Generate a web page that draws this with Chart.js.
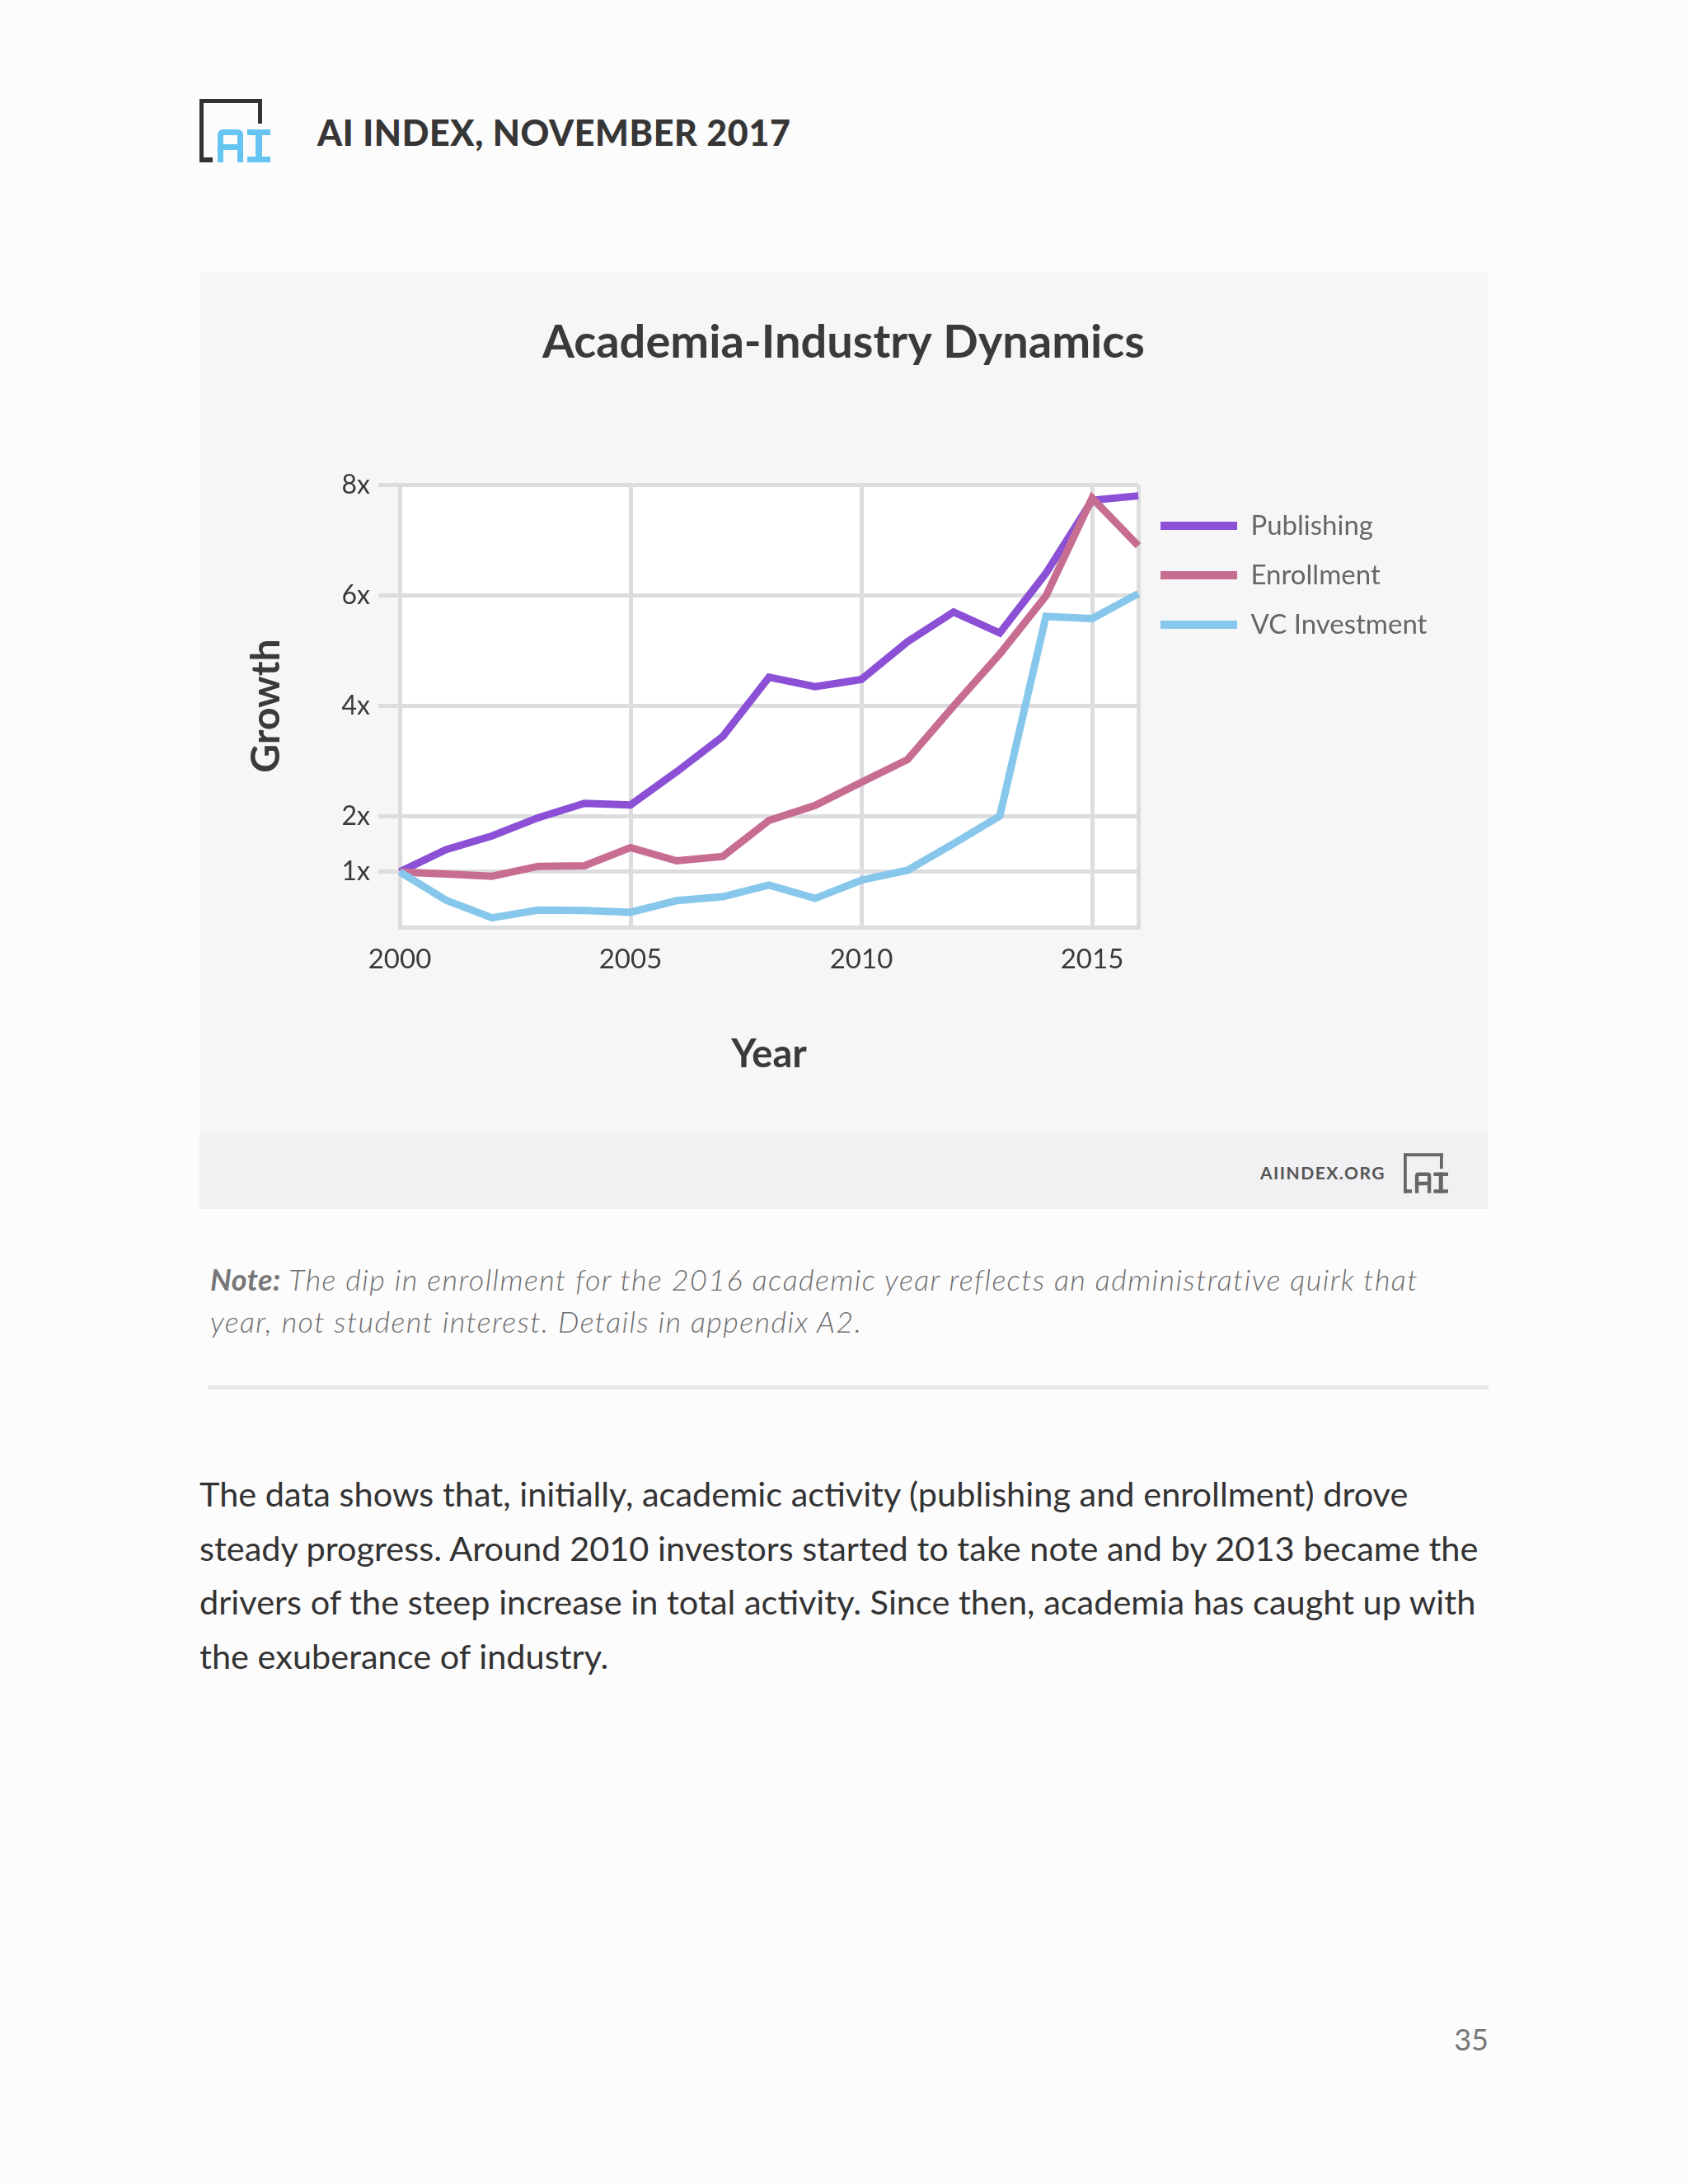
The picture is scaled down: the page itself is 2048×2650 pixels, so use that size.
<!DOCTYPE html>
<html>
<head>
<meta charset="utf-8">
<title>Academia-Industry Dynamics</title>
<script src="https://cdn.jsdelivr.net/npm/chart.js@4.4.1/dist/chart.umd.min.js"></script>
<style>
    html, body { margin: 0; padding: 0; }
    body {
        width: 2048px;
        height: 2650px;
        position: relative;
        background: #fdfcfd;
        font-family: Lato, "Open Sans", sans-serif;
        color: #333;
        overflow: hidden;
    }
    .logo { position: absolute; left: 242px; top: 120px; }
    .header-title {
        position: absolute; left: 385px; top: 134px;
        font-size: 43px; font-weight: 900; letter-spacing: 0.6px;
        color: #363636; line-height: 54px; white-space: nowrap;
    }
    .panel {
        position: absolute; left: 242px; top: 330px;
        width: 1563px; height: 1137px; background: #f7f6f7;
    }
    .panel-footer {
        position: absolute; left: 0; top: 1044px;
        width: 1563px; height: 93px; background: #f1f0f2;
    }
    .footer-text {
        position: absolute; left: 1287px; top: 1080px;
        font-size: 21px; font-weight: 700; letter-spacing: 1.5px;
        color: #555; line-height: 26px;
    }
    .footer-logo { position: absolute; left: 1461px; top: 1069px; }
    #chart { position: absolute; left: 0; top: 0; }
    .note {
        position: absolute; left: 255px; top: 1527px;
        font-size: 36px; font-style: italic; font-weight: 300; letter-spacing: 1.4px;
        color: #6e6e6e; line-height: 51px; white-space: nowrap;
    }
    .note b { font-weight: 700; color: #777; letter-spacing: 0.5px; }
    .divider {
        position: absolute; left: 252px; top: 1681px;
        width: 1554px; height: 5px; background: #e6e5e7;
    }
    .body-text {
        position: absolute; left: 242px; top: 1780px;
        font-size: 41.5px; line-height: 65.5px; color: #333; white-space: nowrap;
    }
    .page-num {
        position: absolute; right: 242px; top: 2452px;
        font-size: 36px; color: #777; line-height: 44px;
    }
</style>
</head>
<body>

<svg class="logo" width="86" height="77" viewBox="0 0 86 77">
    <g fill="#333">
        <rect x="0" y="0" width="5" height="77"/>
        <rect x="0" y="0" width="76" height="5"/>
        <rect x="71" y="0" width="5" height="30"/>
        <rect x="0" y="71" width="16" height="6"/>
    </g>
    <g fill="#66c4f2">
        <path d="M22 77 V44 Q22 37 29 37 H46 Q53 37 53 44 V77 H46 V62 H29 V77 Z M29 44 V55 H46 V44 Z"/>
        <rect x="58" y="37" width="28" height="7"/>
        <rect x="68" y="37" width="8" height="40"/>
        <rect x="58" y="70" width="28" height="7"/>
    </g>
</svg>
<div class="header-title">AI INDEX, NOVEMBER 2017</div>

<div class="panel">
    <canvas id="chart" width="1563" height="1044"></canvas>
    <div class="panel-footer"></div>
    <div class="footer-text">AIINDEX.ORG</div>
    <svg class="footer-logo" width="54" height="49" viewBox="0 0 86 77">
        <g fill="#666">
            <rect x="0" y="0" width="6" height="77"/>
            <rect x="0" y="0" width="76" height="6"/>
            <rect x="70" y="0" width="6" height="30"/>
            <rect x="0" y="70" width="16" height="7"/>
            <path d="M22 77 V44 Q22 37 29 37 H46 Q53 37 53 44 V77 H46 V62 H29 V77 Z M29 44 V55 H46 V44 Z"/>
            <rect x="58" y="37" width="28" height="7"/>
            <rect x="68" y="37" width="8" height="40"/>
            <rect x="58" y="70" width="28" height="7"/>
        </g>
    </svg>
</div>

<div class="note"><b>Note:</b> The dip in enrollment for the 2016 academic year reflects an administrative quirk that<br>year, not student interest. Details in appendix A2.</div>
<div class="divider"></div>

<div class="body-text">The data shows that, initially, academic activity (publishing and enrollment) drove<br>steady progress. Around 2010 investors started to take note and by 2013 became the<br>drivers of the steep increase in total activity. Since then, academia has caught up with<br>the exuberance of industry.</div>

<div class="page-num">35</div>

<script>
// du lieu doc tu hinh (growth so voi nam 2000)
var years = [2000, 2001, 2002, 2003, 2004, 2005, 2006, 2007, 2008, 2009, 2010, 2011, 2012, 2013, 2014, 2015, 2016];
var publishing = [1.0, 1.40, 1.65, 1.98, 2.24, 2.21, 2.81, 3.45, 4.52, 4.35, 4.48, 5.16, 5.70, 5.32, 6.40, 7.72, 7.80];
var enrollment = [1.0, 0.96, 0.92, 1.10, 1.11, 1.44, 1.20, 1.28, 1.93, 2.20, 2.62, 3.03, 4.00, 4.94, 5.99, 7.76, 6.90];
var vcInvestment = [1.0, 0.49, 0.17, 0.31, 0.30, 0.27, 0.48, 0.55, 0.76, 0.52, 0.85, 1.03, 1.51, 2.01, 5.62, 5.58, 6.03];

var seriesNames = ["Publishing", "Enrollment", "VC Investment"];
var seriesColors = ["#8b50d6", "#c86d92", "#86c7eb"];

var yTicks = [1, 2, 4, 6, 8];
var labelYears = [2000, 2005, 2010, 2015];
var gridYears = [2000, 2005, 2010, 2015, 2016];

var gridColor = "#dddcde";
var textColor = "#3a3a3a";
var fontFamily = "Lato, 'Open Sans', sans-serif";

// to mau nen trang cho vung ve
var plotBackground = {
    id: "plotBackground",
    beforeDraw: function (chart) {
        var a = chart.chartArea;
        var ctx = chart.ctx;
        ctx.save();
        ctx.fillStyle = "#ffffff";
        ctx.fillRect(a.left, a.top, a.right - a.left, a.bottom - a.top);
        ctx.restore();
    }
};

function drawChart() {
    var canvas = document.getElementById("chart");
    var ctx = canvas.getContext("2d");

    var plotLeft = 243, plotRight = 1139, plotBottom = 795;
    var legendFont = 33, legendPad = 27, legendBox = 93;

    // tinh do rong legend de vung ve dung vi tri
    ctx.font = legendFont + "px " + fontFamily;
    var maxText = 0;
    seriesNames.forEach(function (n) {
        maxText = Math.max(maxText, ctx.measureText(n).width);
    });
    var legendWidth = legendPad + legendBox + legendFont / 2 + maxText + 10;
    var spacerWidth = Math.max(0, canvas.width - plotRight - legendWidth);

    // hop trong ben phai legend (de title van can giua ca khung)
    // display: false -> khong bi tinh vao gioi han do rong cua cac hop doc
    var rightSpacer = {
        id: "rightSpacer",
        beforeInit: function (chart) {
            Chart.layouts.addBox(chart, {
                position: "right",
                weight: 2000,
                fullSize: false,
                options: { display: false, stackWeight: 1 },
                left: 0, top: 0, right: 0, bottom: 0, width: 0, height: 0,
                isHorizontal: function () { return false; },
                update: function (maxWidth, maxHeight) {
                    this.width = spacerWidth;
                    this.height = maxHeight;
                },
                draw: function () {}
            });
        }
    };

    var datasets = [publishing, enrollment, vcInvestment].map(function (arr, i) {
        return {
            label: seriesNames[i],
            data: arr,
            borderColor: seriesColors[i],
            backgroundColor: seriesColors[i],
            borderWidth: 9,
            pointRadius: 0,
            pointHoverRadius: 0,
            tension: 0,
            fill: false,
            order: 2 - i
        };
    });

    new Chart(ctx, {
        type: "line",
        data: { labels: years, datasets: datasets },
        options: {
            responsive: false,
            animation: false,
            devicePixelRatio: 1,
            layout: { padding: 0 },
            plugins: {
                title: {
                    display: true,
                    text: "Academia-Industry Dynamics",
                    color: textColor,
                    font: { family: fontFamily, size: 56, weight: "bold" },
                    padding: { top: 52, bottom: 139 }
                },
                legend: {
                    position: "right",
                    align: "start",
                    fullSize: false,
                    maxWidth: 420,
                    title: {
                        display: true,
                        text: " ",
                        font: { size: 1 },
                        padding: { top: 5, bottom: 0 }
                    },
                    labels: {
                        boxWidth: legendBox,
                        boxHeight: 10,
                        padding: legendPad,
                        color: textColor,
                        font: { family: fontFamily, size: legendFont },
                        sort: function (a, b) { return a.datasetIndex - b.datasetIndex; },
                        generateLabels: function (chart) {
                            return chart.data.datasets.map(function (ds, i) {
                                return {
                                    text: ds.label,
                                    fillStyle: ds.borderColor,
                                    strokeStyle: ds.borderColor,
                                    lineWidth: 0,
                                    hidden: false,
                                    datasetIndex: i
                                };
                            });
                        }
                    }
                },
                tooltip: { enabled: false }
            },
            scales: {
                x: {
                    type: "category",
                    afterFit: function (scale) { scale.height = canvas.height - plotBottom; },
                    grid: {
                        drawTicks: false,
                        lineWidth: 5,
                        color: function (c) {
                            return gridYears.indexOf(years[c.index]) >= 0 ? gridColor : "rgba(0,0,0,0)";
                        }
                    },
                    border: { display: true, color: gridColor, width: 5 },
                    ticks: {
                        autoSkip: false,
                        maxRotation: 0,
                        padding: 20,
                        color: textColor,
                        font: { family: fontFamily, size: 33 },
                        callback: function (value, index) {
                            var yr = years[index];
                            return labelYears.indexOf(yr) >= 0 ? String(yr) : "";
                        }
                    },
                    title: {
                        display: true,
                        text: "Year",
                        color: textColor,
                        font: { family: fontFamily, size: 47, weight: "bold" },
                        padding: { top: 0, bottom: 66 }
                    }
                },
                y: {
                    min: 0,
                    max: 8,
                    afterFit: function (scale) { scale.width = plotLeft; },
                    afterBuildTicks: function (scale) {
                        scale.ticks = yTicks.map(function (v) { return { value: v }; });
                    },
                    grid: { color: gridColor, lineWidth: 5, tickLength: 26, drawTicks: true },
                    border: { display: true, color: gridColor, width: 5 },
                    ticks: {
                        padding: 10,
                        color: textColor,
                        font: { family: fontFamily, size: 32 },
                        callback: function (value) { return value + "x"; }
                    },
                    title: {
                        display: true,
                        text: "Growth",
                        color: textColor,
                        font: { family: fontFamily, size: 48, weight: "bold" },
                        padding: { top: 53, bottom: 0 }
                    }
                }
            }
        },
        plugins: [plotBackground, rightSpacer]
    });
}

drawChart();
</script>
</body>
</html>
